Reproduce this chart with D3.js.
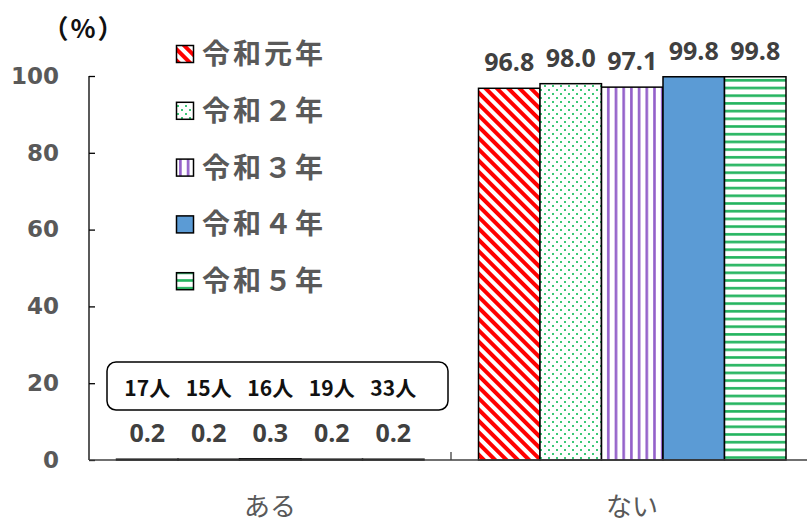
<!DOCTYPE html>
<html><head><meta charset="utf-8">
<script src="https://cdn.jsdelivr.net/npm/d3@7"></script>
<style>body{margin:0;background:#fff}svg{display:block}</style>
</head><body>
<svg id="c" width="807" height="522"></svg>
<script>
const categories = ["ある", "ない"];
const seriesNames = ["令和元年", "令和２年", "令和３年", "令和４年", "令和５年"];
const valuesAru = [0.2, 0.2, 0.3, 0.2, 0.2];
const valuesNai = [96.8, 98.0, 97.1, 99.8, 99.8];
const countLabels = ["17人", "15人", "16人", "19人", "33人"];
const yTicks = [0, 20, 40, 60, 80, 100];

const svg = d3.select("#c");
const defs = svg.append("defs");
// patterns
const p1 = defs.append("pattern").attr("id","p0").attr("patternUnits","userSpaceOnUse")
  .attr("width",8).attr("height",8).attr("patternTransform","rotate(-45)");
p1.append("rect").attr("width",8).attr("height",8).attr("fill","#fff");
p1.append("rect").attr("width",4).attr("height",8).attr("fill","#ff0000");
const p2 = defs.append("pattern").attr("id","p1").attr("patternUnits","userSpaceOnUse")
  .attr("width",8).attr("height",8);
p2.append("rect").attr("width",8).attr("height",8).attr("fill","#fff");
p2.append("rect").attr("x",1).attr("y",1).attr("width",2).attr("height",2).attr("fill","#3cc878");
p2.append("rect").attr("x",5).attr("y",5).attr("width",2).attr("height",2).attr("fill","#3cc878");
const p3 = defs.append("pattern").attr("id","p2").attr("patternUnits","userSpaceOnUse")
  .attr("width",7.7).attr("height",8);
p3.append("rect").attr("width",7.7).attr("height",8).attr("fill","#fff");
p3.append("rect").attr("x",2).attr("width",2.6).attr("height",8).attr("fill","#9360c9");
const p5 = defs.append("pattern").attr("id","p4").attr("patternUnits","userSpaceOnUse")
  .attr("width",8).attr("height",7.7);
p5.append("rect").attr("width",8).attr("height",7.7).attr("fill","#fff");
p5.append("rect").attr("y",2).attr("width",8).attr("height",2.6).attr("fill","#22b45e");
const fills = ["url(#p0)","url(#p1)","url(#p2)","#5b9bd5","url(#p4)"];

const y = d3.scaleLinear().domain([0,100]).range([460,76]);
const x0 = d3.scaleBand().domain(categories).range([89,813]).padding(0);
const x1 = d3.scaleBand().domain(seriesNames).range([27.5,335]).padding(0);

const data = [valuesAru, valuesNai];

// bars
categories.forEach((cat, ci) => {
  const g = svg.append("g").attr("transform", `translate(${x0(cat)},0)`);
  g.selectAll("rect").data(data[ci]).join("rect")
    .attr("x", (d,i) => x1(seriesNames[i]))
    .attr("y", d => y(d))
    .attr("width", x1.bandwidth())
    .attr("height", d => y(0) - y(d))
    .attr("fill", (d,i) => fills[i])
    .attr("stroke", "#000").attr("stroke-width", 1.5);
  g.selectAll("text.v").data(data[ci]).join("text").attr("class","v")
    .attr("x", (d,i) => x1(seriesNames[i]) + x1.bandwidth()/2)
    .attr("y", d => y(d) - 17)
    .attr("text-anchor","middle")
    .attr("font-family","'Open Sans', 'Liberation Sans', sans-serif")
    .attr("font-weight","bold").attr("font-size",25)
    .attr("fill","#404040")
    .text(d => d.toFixed(1));
});

// count box
const gA = svg.append("g").attr("transform", `translate(${x0("ある")},0)`);
gA.append("rect").attr("x",18).attr("y",362).attr("width",341).attr("height",48)
  .attr("rx",9).attr("fill","#fff").attr("stroke","#000").attr("stroke-width",1.5);
gA.selectAll("text.c").data(countLabels).join("text").attr("class","c")
  .attr("x", (d,i) => x1(seriesNames[i]) + x1.bandwidth()/2)
  .attr("y", 396)
  .attr("text-anchor","middle")
  .attr("font-family","'Noto Sans CJK JP', sans-serif")
  .attr("font-weight","bold").attr("font-size",21)
  .attr("fill","#111")
  .text(d => d);

// y axis
const yAxis = d3.axisLeft(y).tickValues(yTicks).tickSize(-6).tickPadding(30).tickFormat(d3.format("d"));
const ya = svg.append("g").attr("transform","translate(89,0)").call(yAxis);
ya.select(".domain").attr("stroke","#000").attr("stroke-width",1.3).attr("d","M0,76V460");
ya.selectAll(".tick line").attr("stroke","#000").attr("stroke-width",1.3);
ya.selectAll(".tick text").attr("font-family","'DejaVu Sans', sans-serif")
  .attr("font-weight","bold").attr("font-size",23).attr("fill","#595959");

// x axis
const xAxis = d3.axisBottom(x0).tickSize(0).tickPadding(38);
const xa = svg.append("g").attr("transform","translate(0,460)").call(xAxis);
xa.select(".domain").attr("stroke","#404040").attr("stroke-width",1.5).attr("d","M89,0H807");
xa.selectAll(".tick text").attr("font-family","'Noto Sans CJK JP', sans-serif")
  .attr("font-size",26).attr("fill","#595959");
xa.append("line").attr("x1",x0("ない")).attr("x2",x0("ない")).attr("y1",0).attr("y2",-8)
  .attr("stroke","#404040").attr("stroke-width",1.3);

// unit
svg.append("text").attr("x",84).attr("y",38).attr("text-anchor","middle")
  .attr("font-family","'Noto Sans CJK JP', sans-serif").attr("font-weight","bold")
  .attr("font-size",26).attr("letter-spacing",2).attr("fill","#111").text("（%）");

// legend
const lg = svg.append("g");
seriesNames.forEach((s,i) => {
  const cy = 54 + i*56.8;
  lg.append("rect").attr("x",176.5).attr("y",cy-8.5).attr("width",17).attr("height",17)
    .attr("fill",fills[i]).attr("stroke","#000").attr("stroke-width",1.5);
  lg.append("text").attr("x",202).attr("y",cy+10)
    .attr("font-family","'Noto Sans CJK JP', sans-serif").attr("font-weight","bold")
    .attr("font-size",28).attr("letter-spacing",3).attr("fill","#595959").text(s);
});
</script>
</body></html>
